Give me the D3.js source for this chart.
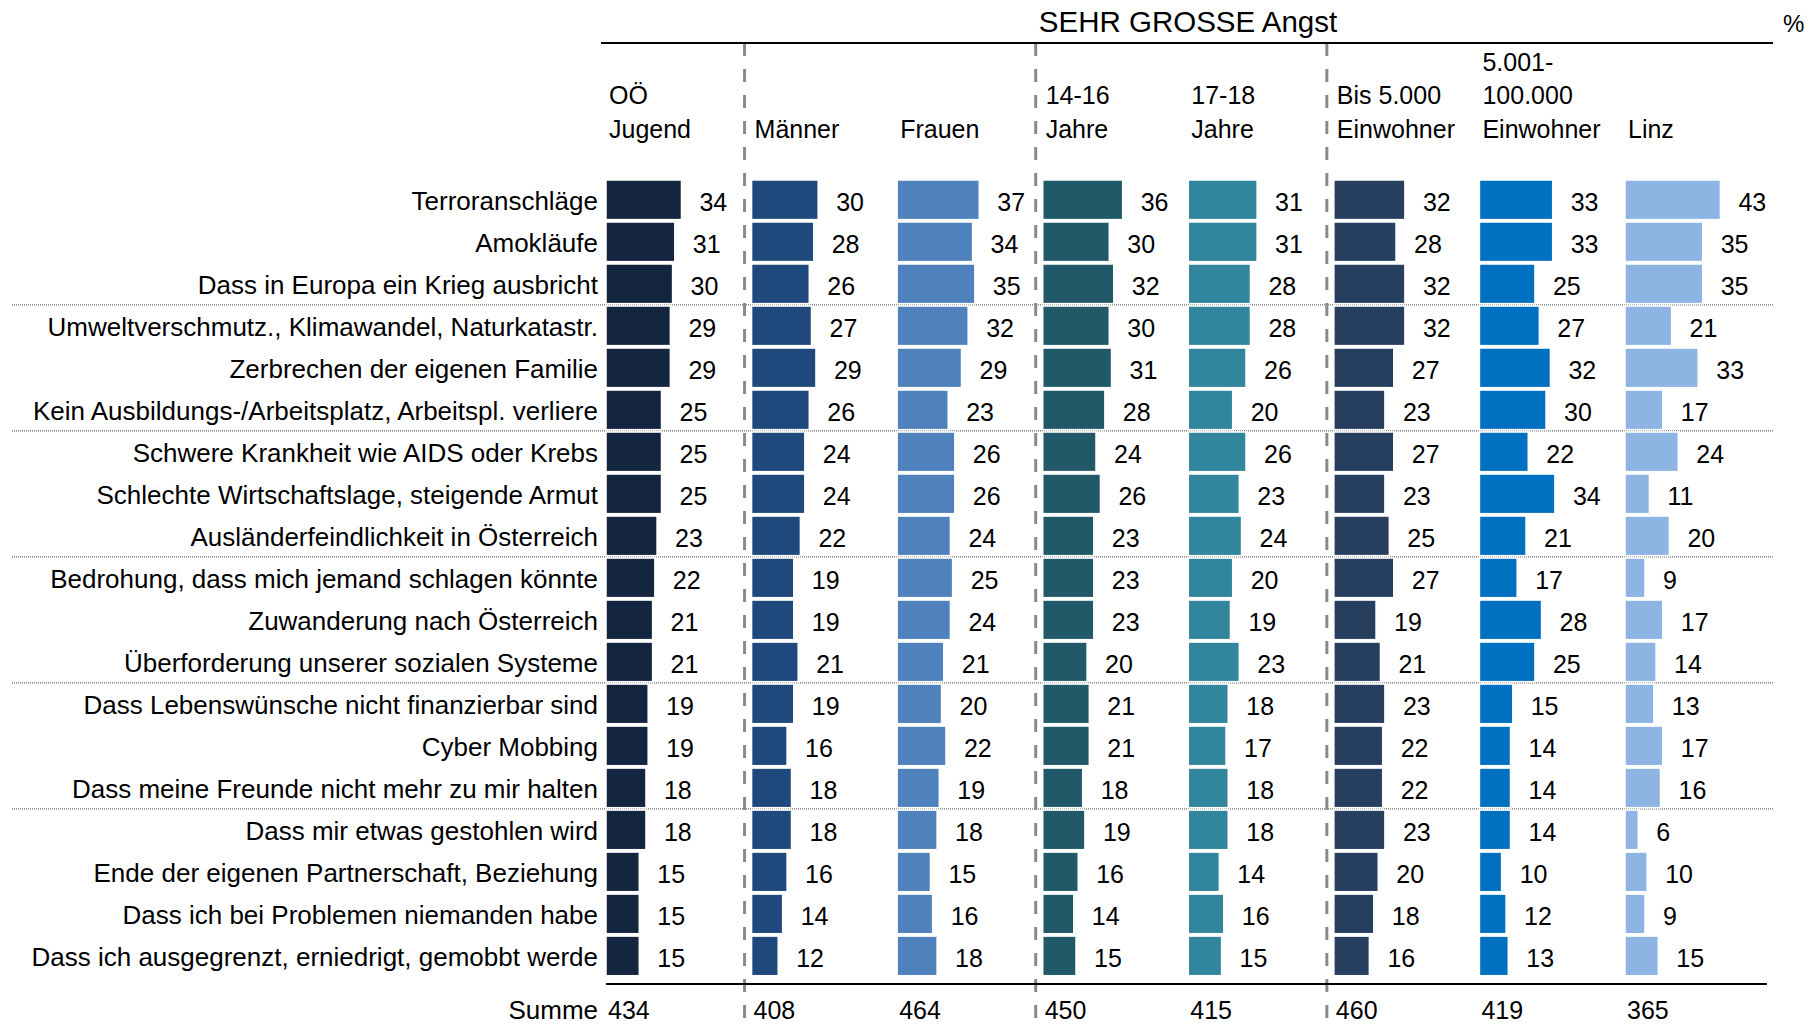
<!DOCTYPE html>
<html>
<head>
<meta charset="utf-8">
<script src="https://cdn.jsdelivr.net/npm/d3@7"></script>
<style>
  html, body { margin: 0; padding: 0; background: #ffffff; }
  svg { display: block; font-family: "Liberation Sans", Arial, sans-serif; }
</style>
</head>
<body>
<script>
// ---------- DATA ----------
const categories = [
  "Terroranschläge",
  "Amokläufe",
  "Dass in Europa ein Krieg ausbricht",
  "Umweltverschmutz., Klimawandel, Naturkatastr.",
  "Zerbrechen der eigenen Familie",
  "Kein Ausbildungs-/Arbeitsplatz, Arbeitspl. verliere",
  "Schwere Krankheit wie AIDS oder Krebs",
  "Schlechte Wirtschaftslage, steigende Armut",
  "Ausländerfeindlichkeit in Österreich",
  "Bedrohung, dass mich jemand schlagen könnte",
  "Zuwanderung nach Österreich",
  "Überforderung unserer sozialen Systeme",
  "Dass Lebenswünsche nicht finanzierbar sind",
  "Cyber Mobbing",
  "Dass meine Freunde nicht mehr zu mir halten",
  "Dass mir etwas gestohlen wird",
  "Ende der eigenen Partnerschaft, Beziehung",
  "Dass ich bei Problemen niemanden habe",
  "Dass ich ausgegrenzt, erniedrigt, gemobbt werde"
];

const seriesKeys = ["ooe", "maenner", "frauen", "j1416", "j1718", "bis5000", "bis100000", "linz"];

const headerLines = [
  ["OÖ", "Jugend"],
  ["Männer"],
  ["Frauen"],
  ["14-16", "Jahre"],
  ["17-18", "Jahre"],
  ["Bis 5.000", "Einwohner"],
  ["5.001-", "100.000", "Einwohner"],
  ["Linz"]
];

const ooe       = [34, 31, 30, 29, 29, 25, 25, 25, 23, 22, 21, 21, 19, 19, 18, 18, 15, 15, 15];
const maenner   = [30, 28, 26, 27, 29, 26, 24, 24, 22, 19, 19, 21, 19, 16, 18, 18, 16, 14, 12];
const frauen    = [37, 34, 35, 32, 29, 23, 26, 26, 24, 25, 24, 21, 20, 22, 19, 18, 15, 16, 18];
const j1416     = [36, 30, 32, 30, 31, 28, 24, 26, 23, 23, 23, 20, 21, 21, 18, 19, 16, 14, 15];
const j1718     = [31, 31, 28, 28, 26, 20, 26, 23, 24, 20, 19, 23, 18, 17, 18, 18, 14, 16, 15];
const bis5000   = [32, 28, 32, 32, 27, 23, 27, 23, 25, 27, 19, 21, 23, 22, 22, 23, 20, 18, 16];
const bis100000 = [33, 33, 25, 27, 32, 30, 22, 34, 21, 17, 28, 25, 15, 14, 14, 14, 10, 12, 13];
const linz      = [43, 35, 35, 21, 33, 17, 24, 11, 20,  9, 17, 14, 13, 17, 16,  6, 10,  9, 15];

const summe = [434, 408, 464, 450, 415, 460, 419, 365];

const title = "SEHR GROSSE Angst";
const unitLabel = "%";
const sumLabel = "Summe";

// ---------- STYLES ----------
const colors = ["#14253f", "#1f497d", "#4f81bd", "#215968", "#31859c", "#273f5f", "#0070c0", "#8eb4e3"];
const seriesValues = { ooe, maenner, frauen, j1416, j1718, bis5000, bis100000, linz };

// ---------- CHART ----------
const W = 1818, H = 1026;
const svg = d3.select("body").append("svg").attr("width", W).attr("height", H);
svg.append("rect").attr("width", W).attr("height", H).attr("fill", "#fff");

const y = d3.scaleBand().domain(categories)
  .range([178.8, 976.9]).paddingInner(0.057).paddingOuter(0.0285);
const col = d3.scalePoint().domain(seriesKeys).range([606, 1625]);
const x = d3.scaleLinear().domain([0, 100]).range([0, 222]);

const fontSize = 25;
const labelSize = 26;
const gapHalf = (y.step() - y.bandwidth()) / 2;

// dotted group separators (every 3 rows)
const sepRows = [3, 6, 9, 12, 15];
svg.append("g").selectAll("line").data(sepRows).join("line")
  .attr("x1", 12).attr("x2", 1773)
  .attr("y1", d => y(categories[d]) - gapHalf)
  .attr("y2", d => y(categories[d]) - gapHalf)
  .attr("stroke", "#6a6a6a").attr("stroke-width", 1.3)
  .attr("stroke-dasharray", "1,1");

// dashed vertical group separators
const vsep = ["maenner", "j1416", "bis5000"];
svg.append("g").selectAll("line").data(vsep).join("line")
  .attr("x1", d => col(d) - 7).attr("x2", d => col(d) - 7)
  .attr("y1", 43).attr("y2", H)
  .attr("stroke", "#8a8a8a").attr("stroke-width", 3)
  .attr("stroke-dasharray", "13,13");

// top & bottom rules
svg.append("line").attr("x1", 601).attr("x2", 1773).attr("y1", 43).attr("y2", 43)
  .attr("stroke", "#000").attr("stroke-width", 2);
svg.append("line").attr("x1", 606).attr("x2", 1767).attr("y1", 984).attr("y2", 984)
  .attr("stroke", "#000").attr("stroke-width", 2);

// title + unit
svg.append("text").attr("x", 1188).attr("y", 32).attr("text-anchor", "middle")
  .attr("font-size", 29.5).attr("fill", "#000").text(title);
svg.append("text").attr("x", 1783).attr("y", 32)
  .attr("font-size", 24).attr("fill", "#000").text(unitLabel);

// column headers (bottom aligned)
const headerBase = 137.5, headerPitch = 33.5;
seriesKeys.forEach((k, i) => {
  const lines = headerLines[i];
  const g = svg.append("text").attr("font-size", fontSize).attr("fill", "#000");
  lines.forEach((t, j) => {
    g.append("tspan").attr("x", col(k) + 3)
      .attr("y", headerBase - (lines.length - 1 - j) * headerPitch).text(t);
  });
});

// row labels
svg.append("g").selectAll("text").data(categories).join("text")
  .attr("x", 598).attr("y", d => y(d) + y.bandwidth() / 2 + 10)
  .attr("text-anchor", "end").attr("font-size", labelSize).attr("fill", "#000")
  .text(d => d);

// bars + value labels
seriesKeys.forEach((k, si) => {
  const vals = seriesValues[k];
  const g = svg.append("g");
  g.selectAll("rect").data(vals).join("rect")
    .attr("x", col(k))
    .attr("y", (d, i) => y(categories[i]))
    .attr("width", d => x(d))
    .attr("height", y.bandwidth())
    .attr("fill", colors[si])
    .attr("stroke", "#fff").attr("stroke-width", 1.5);
  g.selectAll("text").data(vals).join("text")
    .attr("x", d => col(k) + x(d) + 18)
    .attr("y", (d, i) => y(categories[i]) + y.bandwidth() / 2 + 11)
    .attr("font-size", fontSize).attr("fill", "#000")
    .text(d => d);
});

// Summe row
svg.append("text").attr("x", 598).attr("y", 1019).attr("text-anchor", "end")
  .attr("font-size", labelSize).attr("fill", "#000").text(sumLabel);
svg.append("g").selectAll("text").data(summe).join("text")
  .attr("x", (d, i) => col(seriesKeys[i]) + 2).attr("y", 1019)
  .attr("font-size", fontSize).attr("fill", "#000").text(d => d);
</script>
</body>
</html>
